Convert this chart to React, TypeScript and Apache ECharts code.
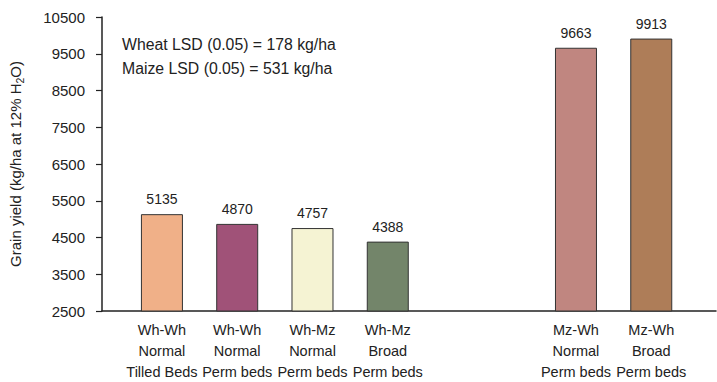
import React, { useEffect, useRef } from "react";
import * as echarts from "echarts";

// Rotation / planting system treatments
const categories = [
  "Wh-Wh\nNormal\nTilled Beds",
  "Wh-Wh\nNormal\nPerm beds",
  "Wh-Mz\nNormal\nPerm beds",
  "Wh-Mz\nBroad\nPerm beds",
  "Mz-Wh\nNormal\nPerm beds",
  "Mz-Wh\nBroad\nPerm beds",
];
// Grain yield, kg/ha at 12% moisture
const yields = [5135, 4870, 4757, 4388, 9663, 9913];
const barColors = ["#F0B088", "#A05278", "#F5F3D3", "#73856A", "#C08680", "#AE7D58"];
// Second group (maize-wheat) is separated from the first by an extra gap
const groupStart = 4;
const groupGap = 1.5;
const yTicks = { min: 2500, max: 10500, step: 1000 };
const notes = ["Wheat LSD (0.05) = 178 kg/ha", "Maize LSD (0.05) = 531 kg/ha"];

const positions = categories.map((_, i) => i + (i >= groupStart ? groupGap : 0));

export default function App() {
  const ref = useRef<HTMLDivElement>(null);

  useEffect(() => {
    if (!ref.current) return;
    const chart = echarts.init(ref.current, null, { renderer: "svg" });
    const font = "'Liberation Sans', Arial, Helvetica, sans-serif";
    chart.setOption({
      animation: false,
      textStyle: { fontFamily: font },
      grid: { left: 101, top: 17, right: 1, bottom: 70, containLabel: false },
      xAxis: {
        type: "value",
        min: -0.796,
        max: 7.36,
        splitLine: { show: false },
        axisTick: { show: false },
        axisLine: { show: true, onZero: false, lineStyle: { color: "#222", width: 1.5 } },
        axisLabel: {
          customValues: positions,
          color: "#222",
          fontSize: 14.5,
          lineHeight: 21,
          margin: 8,
          formatter: (v: number) => {
            const idx = positions.findIndex((p) => Math.abs(p - v) < 1e-6);
            return idx >= 0 ? categories[idx] : "";
          },
        },
      },
      yAxis: {
        type: "value",
        min: yTicks.min,
        max: yTicks.max,
        interval: yTicks.step,
        splitLine: { show: false },
        axisLine: { show: true, onZero: false, lineStyle: { color: "#222", width: 1.5 } },
        axisTick: { show: true, length: 6, lineStyle: { color: "#222", width: 1.2 } },
        axisLabel: { color: "#222", fontSize: 15, margin: 17, formatter: (v: number) => String(v) },
        name: "{a|Grain yield (kg/ha at 12% H}{s|2}{a|O)}",
        nameLocation: "middle",
        nameGap: 77,
        nameTextStyle: {
          rich: {
            a: { fontSize: 15, color: "#222", fontFamily: font },
            s: { fontSize: 10.5, color: "#222", fontFamily: font, verticalAlign: "bottom", padding: [8, 0, 0, 0] },
          },
        },
      },
      series: [
        {
          type: "bar",
          barWidth: 42,
          data: yields.map((y, i) => ({
            value: [positions[i], y],
            itemStyle: { color: barColors[i], borderColor: "#333", borderWidth: 1 },
          })),
          label: {
            show: true,
            position: "top",
            distance: 8,
            color: "#222",
            fontSize: 14,
            formatter: (p: any) => String(p.value[1]),
          },
        },
      ],
      graphic: notes.map((t, i) => ({
        type: "text",
        left: 122,
        top: 36 + i * 24,
        style: { text: t, fontSize: 15.8, fill: "#222", fontFamily: font },
      })),
    });
    return () => chart.dispose();
  }, []);

  return (
    <div
      ref={ref}
      style={{ position: "absolute", left: 0, top: 0, width: 717, height: 382, background: "#fff" }}
    />
  );
}
